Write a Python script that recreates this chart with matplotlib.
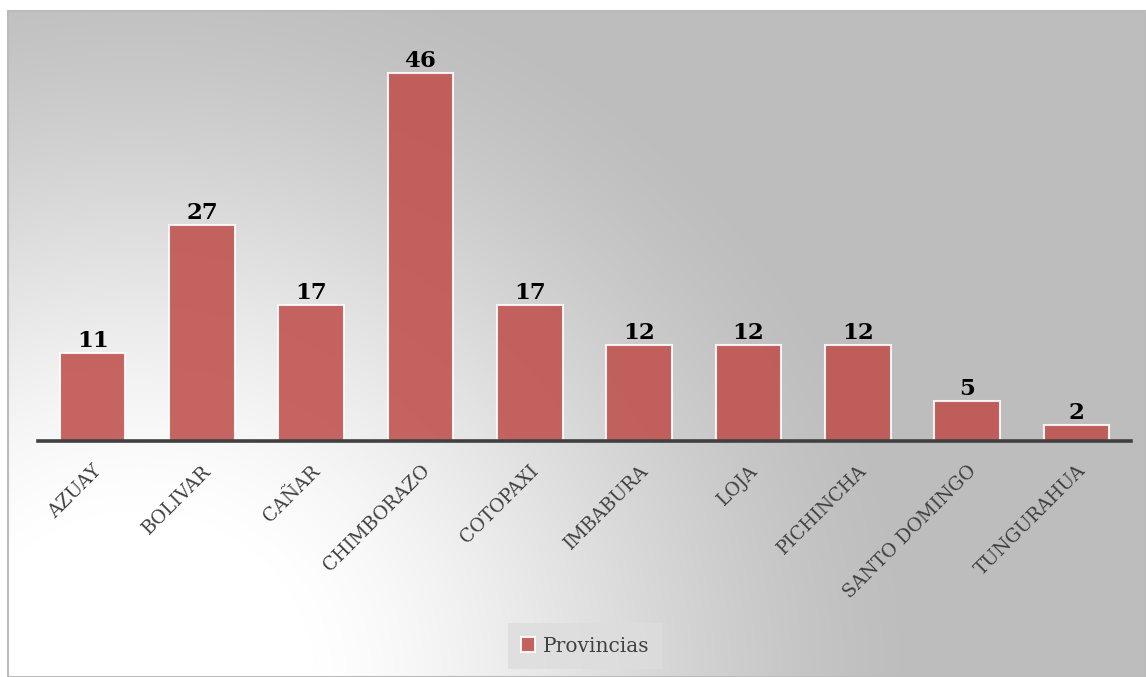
import numpy as np
import matplotlib
matplotlib.use('Agg')
import matplotlib.pyplot as plt
from matplotlib.patches import Rectangle

provincias = ['AZUAY', 'BOLIVAR', 'CAÑAR', 'CHIMBORAZO', 'COTOPAXI', 'IMBABURA',
              'LOJA', 'PICHINCHA', 'SANTO DOMINGO', 'TUNGURAHUA']
valores = [11, 27, 17, 46, 17, 12, 12, 12, 5, 2]
serie = 'Provincias'

W, H = 1146, 677
fig = plt.figure(figsize=(W / 100, H / 100), dpi=100)
fig.patch.set_facecolor('white')

# background: radial gradient inside the chart frame, white at bottom left
bg = fig.add_axes([0, 0, 1, 1], zorder=0)
bg.set_xlim(0, W)
bg.set_ylim(H, 0)
bg.axis('off')
yy, xx = np.mgrid[0:H, 0:W]
d = np.hypot((xx - 130) * 0.95, yy - 677)
s = np.clip((d - 170) / 560.0, 0, 1)
f = 0.5 * (s + s * s * (3 - 2 * s))
g = 1.0 - (1.0 - 0.745) * f
img = np.dstack([g, g, g])
bg.imshow(img, extent=(8, W, H, 11), aspect='auto', interpolation='bilinear')
bg.add_patch(Rectangle((8, 11), W - 8, H - 11, fill=False, edgecolor='#BBBBBB', linewidth=1.5))

ax = fig.add_axes([38 / W, 236 / H, (1131 - 38) / W, 400 / H], zorder=1)
ax.patch.set_alpha(0)
x = np.arange(len(provincias))
bars = ax.bar(x, valores, width=0.6, color='#C0504D', alpha=0.88,
              edgecolor='white', linewidth=1.5, label=serie)
ax.set_xlim(-0.5, len(provincias) - 0.5)
ax.set_ylim(0, 50)

for xi, v in zip(x, valores):
    ax.text(xi, v + 0.1, str(v), ha='center', va='bottom', fontsize=16.5,
            fontweight='bold', family='DejaVu Serif', color='black')

for sp in ['top', 'right', 'left']:
    ax.spines[sp].set_visible(False)
ax.spines['bottom'].set_color('#404040')
ax.spines['bottom'].set_linewidth(2.6)
ax.set_yticks([])
ax.set_xticks(x)
ax.set_xticklabels(provincias, rotation=45, ha='right', rotation_mode='anchor',
                   fontsize=13.5, family='DejaVu Serif', color='#404040')
ax.tick_params(axis='x', length=0, pad=15)

leg = fig.legend(handles=[bars], labels=[serie], loc='center',
                 bbox_to_anchor=(585 / W, 1 - 646 / H), frameon=True,
                 prop={'family': 'DejaVu Serif', 'size': 14.5},
                 handlelength=0.7, handleheight=0.7, handletextpad=0.4,
                 borderpad=0.65, fancybox=False)
leg.get_frame().set_facecolor('#DDDDDD')
leg.get_frame().set_edgecolor('none')
leg.get_frame().set_alpha(0.8)
for txt in leg.get_texts():
    txt.set_color('#404040')

fig.savefig('out.png', dpi=100)
